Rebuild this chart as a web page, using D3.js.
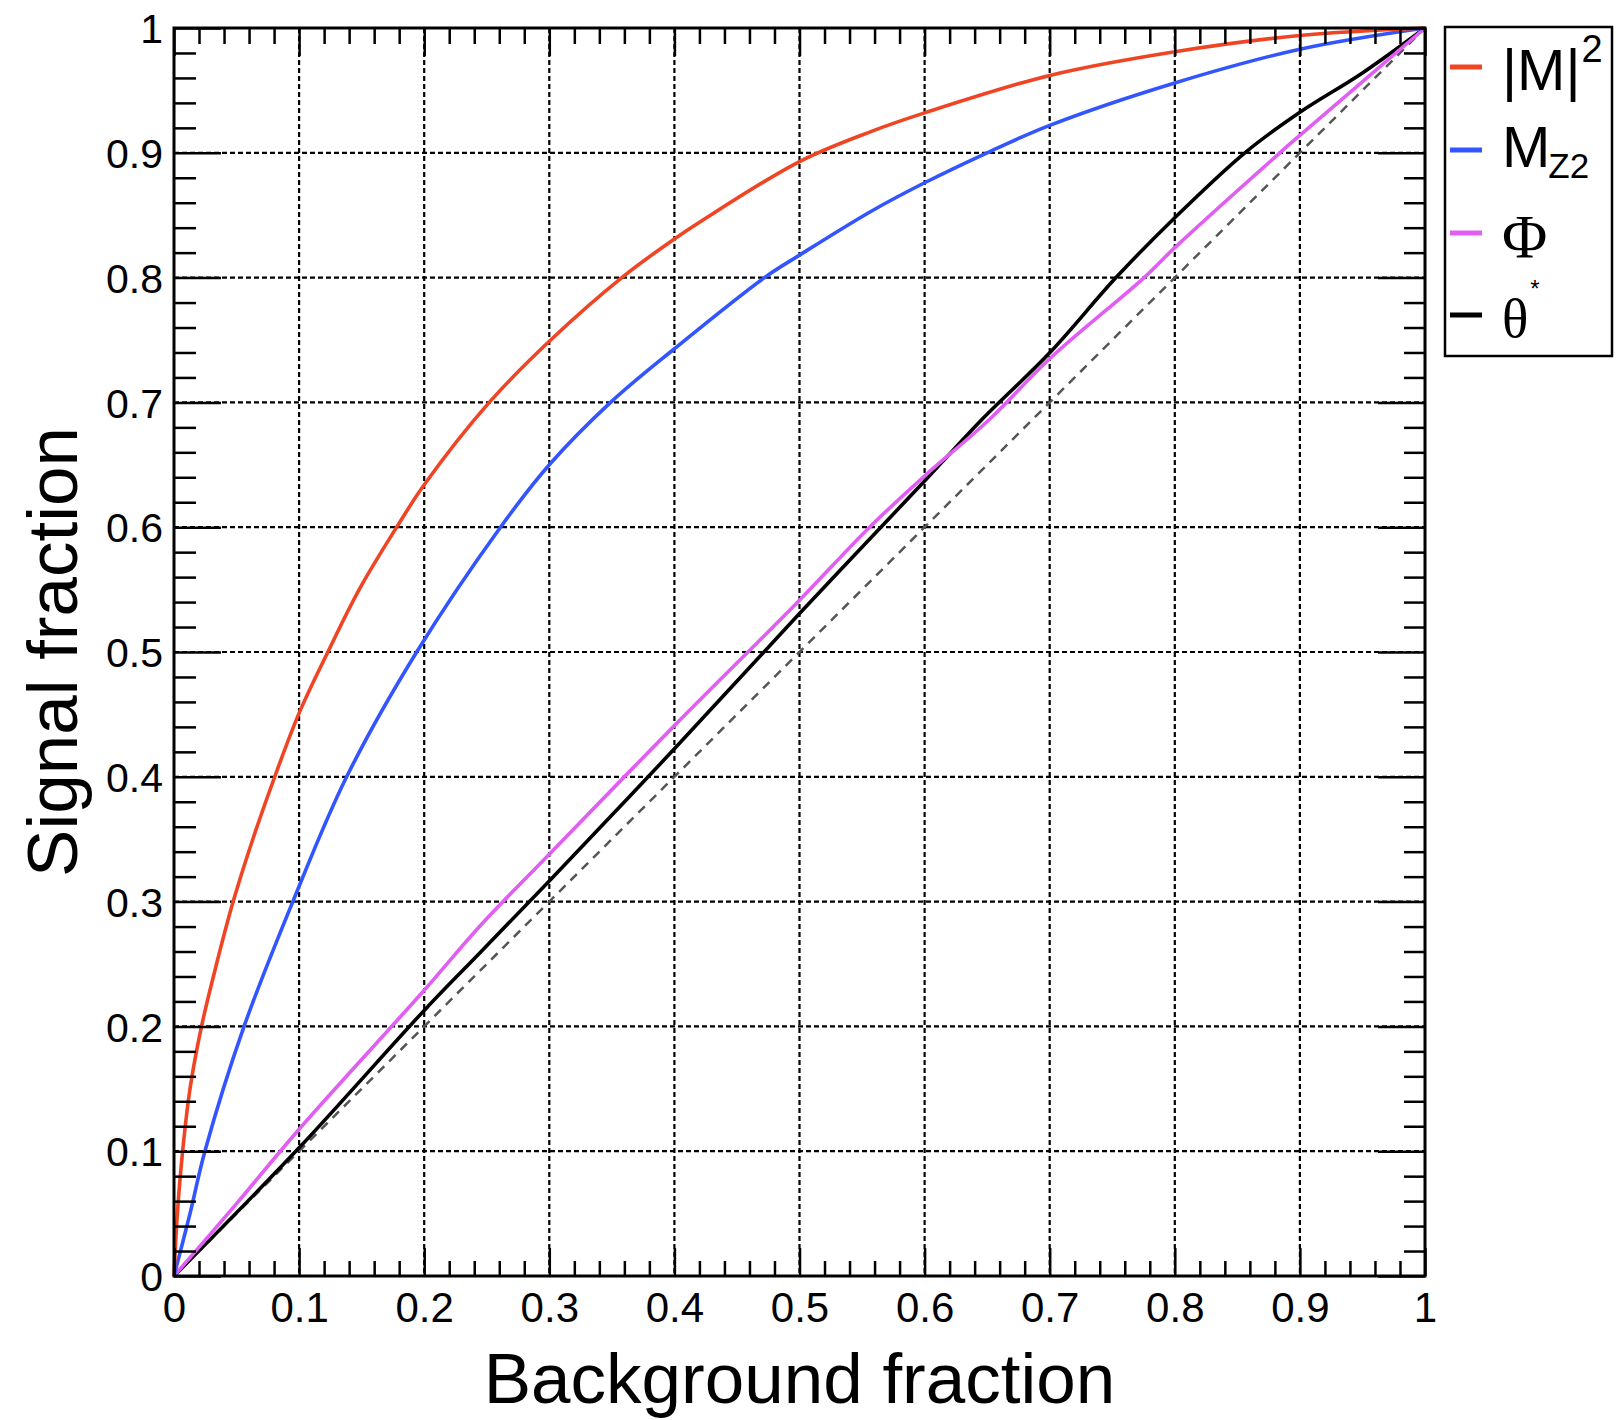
<html>
  <head>
    <script src="https://cdn.jsdelivr.net/npm/d3@7"></script>
    <style>
      * {
        margin: 0;
        padding: 0;
        box-sizing: border-box;
      }
      body {
        background: white;
        font-family: "Liberation Sans", Arial, Helvetica, sans-serif;
      }
      .grid line {
        stroke: black;
        stroke-width: 2.2;
        stroke-dasharray: 5, 3;
      }
      .tick-line {
        stroke: black;
        stroke-width: 2.5;
      }
      .curve {
        fill: none;
        stroke-width: 3.6;
      }
    </style>
  </head>
  <body>
    <div id="chart"></div>
    <script>
      // ROC curves: [background fraction, signal fraction]
      const mm2Curve = [
        [0, 0], [0.0027, 0.05], [0.0069, 0.1], [0.0128, 0.15], [0.022, 0.2],
        [0.034, 0.25], [0.0473, 0.3], [0.063, 0.35], [0.0805, 0.4], [0.1, 0.451],
        [0.123, 0.5], [0.148, 0.55], [0.178, 0.6], [0.2, 0.634], [0.252, 0.7],
        [0.3, 0.749], [0.358, 0.8], [0.4, 0.831], [0.421, 0.845], [0.5, 0.893],
        [0.557, 0.917], [0.6, 0.932], [0.7, 0.962], [0.8, 0.981], [0.9, 0.994],
        [1, 1],
      ];
      const mz2Curve = [
        [0, 0], [0.0128, 0.05], [0.0247, 0.1], [0.056, 0.2], [0.095, 0.3],
        [0.138, 0.4], [0.194, 0.5], [0.261, 0.6], [0.3, 0.65], [0.349, 0.7],
        [0.4, 0.743], [0.472, 0.8], [0.5, 0.818], [0.557, 0.853], [0.6, 0.876],
        [0.65, 0.9], [0.7, 0.922], [0.8, 0.956], [0.9, 0.983], [1, 1],
      ];
      const phiCurve = [
        [0, 0], [0.05, 0.058], [0.1, 0.1176], [0.2, 0.229], [0.2446, 0.2805],
        [0.3, 0.338], [0.4, 0.441], [0.5, 0.5415], [0.556, 0.6], [0.6, 0.641],
        [0.652, 0.6865], [0.7, 0.735], [0.7755, 0.8], [0.8, 0.824], [0.884, 0.9],
        [0.9, 0.914], [1, 1],
      ];
      const thetaCurve = [
        [0, 0], [0.1, 0.1027], [0.2, 0.2128], [0.2446, 0.259], [0.3, 0.3166],
        [0.4, 0.4224], [0.5, 0.5308], [0.6, 0.637], [0.646, 0.6865],
        [0.7, 0.7397], [0.753, 0.8], [0.8, 0.848], [0.856, 0.9], [0.9, 0.9325],
        [0.95, 0.964], [1, 1],
      ];

      const seriesLabel = ["|M|", "M", "\u03A6", "\u03B8"];
      const seriesSup = ["2", "", "", "*"];
      const seriesSub = ["", "Z2", "", ""];
      const seriesColor = ["#ef4524", "#3355ff", "#e15ef2", "#000000"];
      const seriesData = [mm2Curve, mz2Curve, phiCurve, thetaCurve];

      const xTicks = [0, 0.1, 0.2, 0.3, 0.4, 0.5, 0.6, 0.7, 0.8, 0.9, 1];
      const yTicks = [0, 0.1, 0.2, 0.3, 0.4, 0.5, 0.6, 0.7, 0.8, 0.9, 1];
      const minorTicks = d3.range(0, 51).map((i) => i / 50).filter((d, i) => i % 5);

      const w = 1624;
      const h = 1420;
      const padLeft = 174;
      const padRight = 1425;
      const padTop = 28;
      const padBottom = 1276;

      const x = d3.scaleLinear().domain([0, 1]).range([padLeft, padRight]);
      const y = d3.scaleLinear().domain([0, 1]).range([padBottom, padTop]);

      const svg = d3
        .select("#chart")
        .append("svg")
        .attr("width", w)
        .attr("height", h)
        .style("background", "white");

      // grid
      const grid = svg.append("g").attr("class", "grid");
      grid
        .selectAll(".gx")
        .data(xTicks.slice(1, -1))
        .enter()
        .append("line")
        .attr("x1", (d) => x(d))
        .attr("x2", (d) => x(d))
        .attr("y1", padTop)
        .attr("y2", padBottom);
      grid
        .selectAll(".gy")
        .data(yTicks.slice(1, -1))
        .enter()
        .append("line")
        .attr("y1", (d) => y(d))
        .attr("y2", (d) => y(d))
        .attr("x1", padLeft)
        .attr("x2", padRight);

      // diagonal reference
      svg
        .append("line")
        .attr("x1", x(0))
        .attr("y1", y(0))
        .attr("x2", x(1))
        .attr("y2", y(1))
        .attr("stroke", "#555")
        .attr("stroke-width", 2.5)
        .attr("stroke-dasharray", "9,7");

      // curves
      const line = d3
        .line()
        .x((d) => x(d[0]))
        .y((d) => y(d[1]))
        .curve(d3.curveCatmullRom.alpha(0.5));

      svg
        .selectAll(".curve")
        .data(seriesData.slice().reverse())
        .enter()
        .append("path")
        .attr("class", "curve")
        .attr("d", line)
        .attr("stroke", (d, i) => seriesColor[seriesData.length - 1 - i]);

      // ticks (ROOT style, both sides, pointing inward)
      const tickAxis = (axis, tr, values, size) =>
        svg
          .append("g")
          .attr("transform", tr)
          .call(axis.tickValues(values).tickSize(size).tickFormat(""))
          .call((g) => g.select(".domain").remove())
          .call((g) => g.selectAll("line").attr("class", "tick-line"));

      tickAxis(d3.axisBottom(x), `translate(0,${padBottom})`, xTicks, -28);
      tickAxis(d3.axisBottom(x), `translate(0,${padBottom})`, minorTicks, -15);
      tickAxis(d3.axisTop(x), `translate(0,${padTop})`, xTicks, -28);
      tickAxis(d3.axisTop(x), `translate(0,${padTop})`, minorTicks, -16);
      tickAxis(d3.axisLeft(y), `translate(${padLeft},0)`, yTicks, -47);
      tickAxis(d3.axisLeft(y), `translate(${padLeft},0)`, minorTicks, -22);
      tickAxis(d3.axisRight(y), `translate(${padRight},0)`, yTicks, -47);
      tickAxis(d3.axisRight(y), `translate(${padRight},0)`, minorTicks, -21);

      // tick labels
      svg
        .append("g")
        .attr("transform", `translate(0,${padBottom})`)
        .call(d3.axisBottom(x).tickValues(xTicks).tickSize(0).tickFormat(d3.format("~g")))
        .call((g) => g.select(".domain").remove())
        .selectAll("text")
        .attr("y", 46)
        .attr("dy", 0)
        .attr("font-size", 42)
        .attr("font-family", "Liberation Sans, Arial, sans-serif")
        .attr("fill", "black");

      svg
        .append("g")
        .attr("transform", `translate(${padLeft},0)`)
        .call(d3.axisLeft(y).tickValues(yTicks).tickSize(0).tickFormat(d3.format("~g")))
        .call((g) => g.select(".domain").remove())
        .selectAll("text")
        .attr("x", -11)
        .attr("dy", "0.36em")
        .attr("font-size", 41)
        .attr("font-family", "Liberation Sans, Arial, sans-serif")
        .attr("fill", "black");

      // frame
      svg
        .append("rect")
        .attr("x", padLeft)
        .attr("y", padTop)
        .attr("width", padRight - padLeft)
        .attr("height", padBottom - padTop)
        .attr("fill", "none")
        .attr("stroke", "black")
        .attr("stroke-width", 3);

      // axis titles
      svg
        .append("text")
        .attr("x", (padLeft + padRight) / 2)
        .attr("y", 1403)
        .attr("text-anchor", "middle")
        .attr("font-size", 71)
        .text("Background fraction");

      svg
        .append("text")
        .attr("transform", `translate(77,${(padTop + padBottom) / 2}) rotate(-90)`)
        .attr("text-anchor", "middle")
        .attr("font-size", 71)
        .text("Signal fraction");

      // legend
      const legend = svg.append("g");
      legend
        .append("rect")
        .attr("x", 1445)
        .attr("y", 27)
        .attr("width", 167)
        .attr("height", 329)
        .attr("fill", "white")
        .attr("stroke", "black")
        .attr("stroke-width", 2.5);

      const rowY = [67, 150, 233, 315];
      const baseY = [90, 167, 257, 337];

      seriesLabel.forEach((label, i) => {
        legend
          .append("line")
          .attr("x1", 1450)
          .attr("x2", 1482)
          .attr("y1", rowY[i])
          .attr("y2", rowY[i])
          .attr("stroke", seriesColor[i])
          .attr("stroke-width", 5);

        const serif = i >= 2;
        const t = legend
          .append("text")
          .attr("x", 1502)
          .attr("y", baseY[i])
          .attr("font-family", serif ? "Liberation Serif, Times New Roman, serif" : "Liberation Sans, Arial, sans-serif")
          .attr("font-size", i === 2 ? 62 : i === 3 ? 55 : 58);
        t.append("tspan").text(label);
        if (seriesSup[i]) {
          t.append("tspan")
            .attr("font-family", "Liberation Sans, Arial, sans-serif")
            .attr("font-size", i === 0 ? 38 : 24)
            .attr("dx", i === 0 ? 1 : 2)
            .attr("dy", i === 0 ? -28 : -40)
            .text(seriesSup[i]);
        }
        if (seriesSub[i]) {
          t.append("tspan")
            .attr("font-size", 35)
            .attr("dx", -2)
            .attr("dy", 11)
            .text(seriesSub[i]);
        }
      });
    </script>
  </body>
</html>
